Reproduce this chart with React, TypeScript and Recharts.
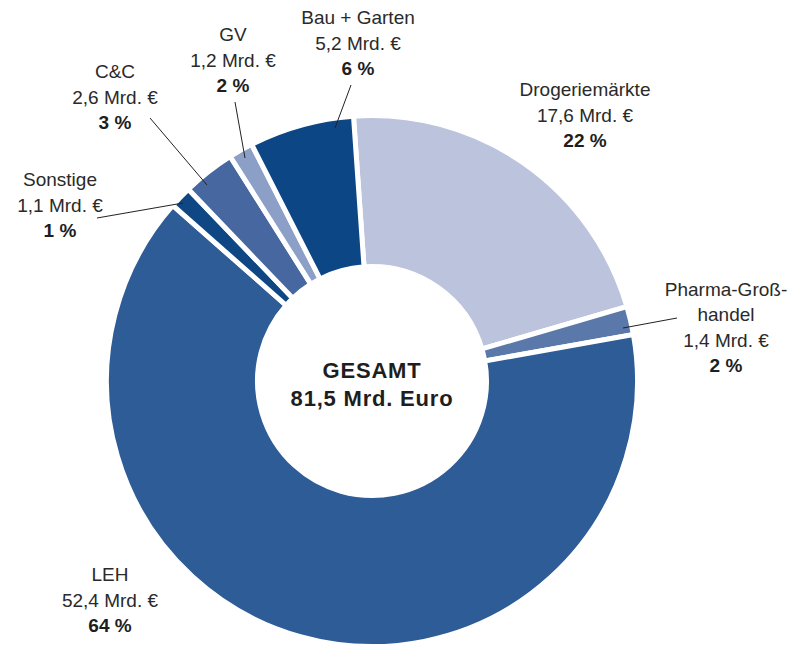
import React from "react";
import { PieChart, Pie, Cell } from "recharts";

// Umsatz nach Vertriebsschiene, Mrd. Euro (clockwise from top)
const categories = ["Drogeriemärkte", "Pharma-Großhandel", "LEH", "Sonstige", "C&C", "GV", "Bau + Garten"];
const nameLines = [["Drogeriemärkte"], ["Pharma-Groß-", "handel"], ["LEH"], ["Sonstige"], ["C&C"], ["GV"], ["Bau + Garten"]];
const values = [17.6, 1.4, 52.4, 1.1, 2.6, 1.2, 5.2];
const percents = [22, 2, 64, 1, 3, 2, 6];
const colors = ["#bcc4dd", "#5a78aa", "#2e5c96", "#0f4784", "#46679f", "#8b9fc7", "#0c4685"];

const totalLabel = "81,5 Mrd. Euro";

const data = categories.map((name, i) => ({ name, value: values[i] }));

const CX = 372;
const CY = 381;

// hand placed label spots, offsets from the pie centre
const spots: Record<string, { dx: number; dy: number; line?: [number, number, number, number] }> = {
  "Drogeriemärkte": { dx: 213, dy: -266 },
  "Pharma-Großhandel": { dx: 354, dy: -41, line: [305, -63, 251, -53] },
  "LEH": { dx: -262, dy: 219 },
  "Sonstige": { dx: -312, dy: -176, line: [-275, -163, -189, -178] },
  "C&C": { dx: -257, dy: -284, line: [-222, -263, -165, -196] },
  "GV": { dx: -139, dy: -321, line: [-137, -279, -127, -223] },
  "Bau + Garten": { dx: -14, dy: -338, line: [-21, -296, -37, -253] },
};

const FONT = "'Liberation Sans', Arial, sans-serif";
const LH = 25.5;

const fmt = (v: number) => v.toFixed(1).replace(".", ",");

const renderLabel = (props: any) => {
  const { cx, cy, index } = props;
  const name = categories[index];
  const s = spots[name];
  const lines = nameLines[index];
  const x = cx + s.dx;
  const y = cy + s.dy;
  return (
    <g key={name}>
      {s.line && (
        <line
          x1={cx + s.line[0]}
          y1={cy + s.line[1]}
          x2={cx + s.line[2]}
          y2={cy + s.line[3]}
          stroke="#222"
          strokeWidth={1}
        />
      )}
      <text x={x} y={y} textAnchor="middle" fontFamily={FONT} fontSize={19} fill="#2a2a2a">
        {lines.map((l, i) => (
          <tspan key={i} x={x} y={y - (lines.length - i) * LH} dominantBaseline="central">
            {l}
          </tspan>
        ))}
        <tspan x={x} y={y} dominantBaseline="central">
          {fmt(values[index])} Mrd. €
        </tspan>
        <tspan x={x} y={y + LH} dominantBaseline="central" fontWeight="bold" fill="#1e1e1e">
          {percents[index]} %
        </tspan>
      </text>
    </g>
  );
};

export default function App() {
  return (
    <div style={{ position: "absolute", left: 0, top: 0, background: "#fff" }}>
      <PieChart width={790} height={645} margin={{ top: 0, right: 0, bottom: 0, left: 0 }}>
        <Pie
          data={data}
          dataKey="value"
          nameKey="name"
          cx={CX}
          cy={CY}
          innerRadius={114.5}
          outerRadius={265.5}
          startAngle={94}
          endAngle={-266}
          stroke="#fff"
          strokeWidth={5}
          label={renderLabel}
          labelLine={false}
          isAnimationActive={false}
        >
          {data.map((d, i) => (
            <Cell key={d.name} fill={colors[i]} />
          ))}
        </Pie>
        <text x={CX} textAnchor="middle" fontFamily={FONT} fontWeight="bold" fontSize={22} letterSpacing={0.8} fill="#1e1e1e">
          <tspan x={CX} y={CY - 11} dominantBaseline="central">GESAMT</tspan>
          <tspan x={CX} y={CY + 17} dominantBaseline="central">{totalLabel}</tspan>
        </text>
      </PieChart>
    </div>
  );
}
